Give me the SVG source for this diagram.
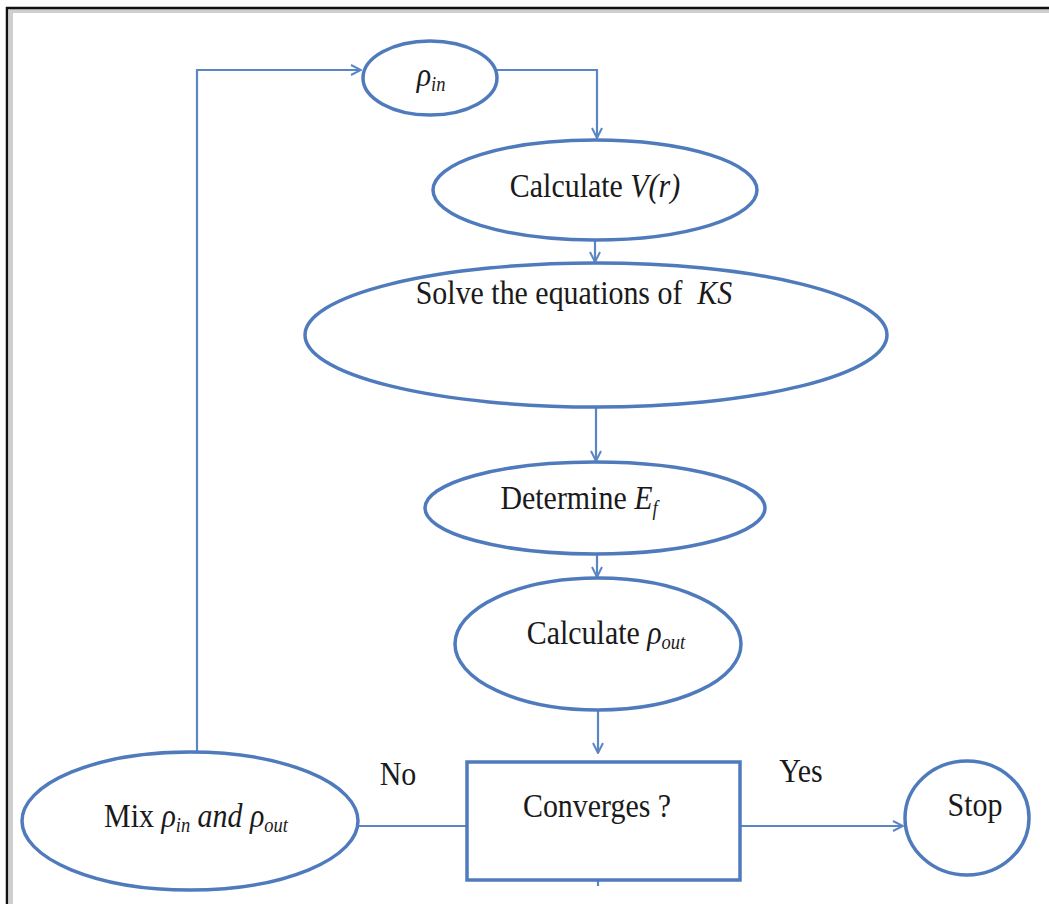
<svg xmlns="http://www.w3.org/2000/svg" width="1049" height="904" viewBox="0 0 1049 904">
<defs>
<style>
.node{fill:#ffffff;stroke:#4f7bbd;stroke-width:3.5}
.conn{fill:none;stroke:#5b86c4;stroke-width:2.2}
.t{font-family:"Liberation Serif","Times New Roman",serif;font-size:34px;fill:#1a1a1a;text-anchor:middle}
.i{font-style:italic}
.s{font-size:21px;font-style:italic}
</style>
<marker id="arr" viewBox="0 0 12 12" refX="11" refY="6" markerWidth="12" markerHeight="12" markerUnits="userSpaceOnUse" orient="auto">
<path d="M1,1 L11,6 L1,11" fill="none" stroke="#5b86c4" stroke-width="2"/>
</marker>
</defs>
<rect x="0" y="0" width="1049" height="904" fill="#ffffff"/>
<g id="frame">
<line x1="10" y1="11" x2="1049" y2="11" stroke="#cfcfcf" stroke-width="4"/>
<line x1="11" y1="10" x2="11" y2="904" stroke="#cfcfcf" stroke-width="4"/>
<line x1="6" y1="8" x2="1049" y2="8" stroke="#111" stroke-width="2.5"/>
<line x1="7" y1="7" x2="7" y2="904" stroke="#111" stroke-width="2.5"/>
</g>
<g id="connectors">
<polyline class="conn" points="197,752 197,70 361,70" marker-end="url(#arr)"/>
<polyline class="conn" points="497,70 597,70 597,138" marker-end="url(#arr)"/>
<line class="conn" x1="595" y1="240" x2="595" y2="262" marker-end="url(#arr)"/>
<line class="conn" x1="596" y1="408" x2="596" y2="461" marker-end="url(#arr)"/>
<line class="conn" x1="597" y1="555" x2="597" y2="577" marker-end="url(#arr)"/>
<line class="conn" x1="598" y1="710" x2="598" y2="753" marker-end="url(#arr)"/>
<line class="conn" x1="358" y1="826" x2="467" y2="826"/>
<line class="conn" x1="740" y1="826" x2="903" y2="826" marker-end="url(#arr)"/>
<line class="conn" x1="598" y1="880" x2="598" y2="886"/>
<text class="t" transform="translate(398,785) scale(0.88,1)">No</text>
<text class="t" transform="translate(801,782) scale(0.88,1)">Yes</text>
</g>
<g id="rho_in">
<ellipse class="node" cx="430" cy="78" rx="67" ry="37"/>
<text class="t i" transform="translate(431,86) scale(0.88,1)" font-size="31">ρ<tspan class="s" dy="5">in</tspan></text>
</g>
<g id="calc_v">
<ellipse class="node" cx="595" cy="190" rx="162" ry="50"/>
<text class="t" transform="translate(595,197) scale(0.88,1)">Calculate <tspan class="i">V(r)</tspan></text>
</g>
<g id="solve_ks">
<ellipse class="node" cx="596" cy="335" rx="291" ry="72"/>
<text class="t" transform="translate(574,304) scale(0.88,1)" xml:space="preserve">Solve the equations of  <tspan class="i">KS</tspan></text>
</g>
<g id="determine_ef">
<ellipse class="node" cx="595" cy="508" rx="170" ry="46"/>
<text class="t" transform="translate(579,509) scale(0.88,1)">Determine <tspan class="i">E</tspan><tspan class="s" dy="6">f</tspan></text>
</g>
<g id="calc_rho_out">
<ellipse class="node" cx="598" cy="644" rx="143" ry="66"/>
<text class="t" transform="translate(606,644) scale(0.88,1)">Calculate <tspan class="i">ρ</tspan><tspan class="s" dy="5">out</tspan></text>
</g>
<g id="converges">
<rect class="node" x="467" y="762" width="273" height="118"/>
<text class="t" transform="translate(597,817) scale(0.88,1)">Converges ?</text>
</g>
<g id="stop">
<ellipse class="node" cx="967" cy="818" rx="62" ry="57"/>
<text class="t" transform="translate(975,816) scale(0.88,1)">Stop</text>
</g>
<g id="mix">
<ellipse class="node" cx="190" cy="821" rx="168" ry="69"/>
<text class="t" transform="translate(196,827) scale(0.88,1)">Mix <tspan class="i">ρ</tspan><tspan class="s" dy="5">in</tspan><tspan class="i" dy="-5"> and ρ</tspan><tspan class="s" dy="5">out</tspan></text>
</g>
</svg>
